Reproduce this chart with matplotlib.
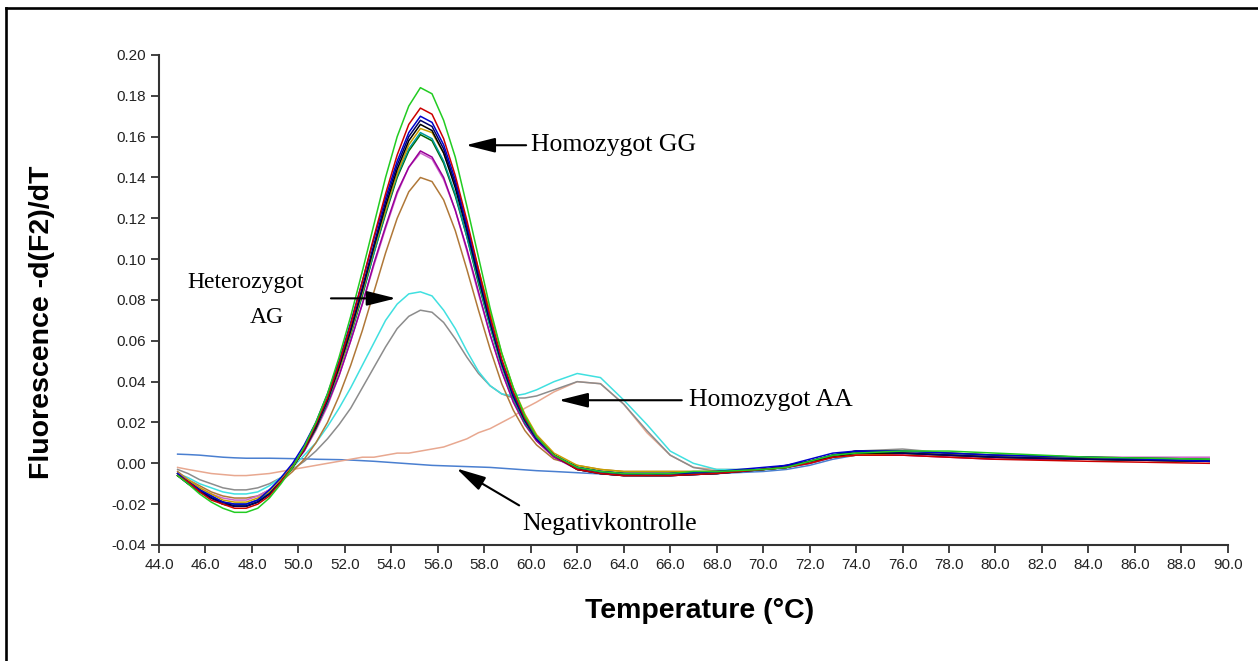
import matplotlib
matplotlib.use("Agg")
import matplotlib.pyplot as plt
from matplotlib.lines import Line2D

# temperature grid (deg C) shared by all melt curves
temp = [44.8, 45.25, 45.75, 46.25, 46.75, 47.25, 47.75, 48.25, 48.75, 49.25, 49.75,
        50.25, 50.75, 51.25, 51.75, 52.25, 52.75, 53.25, 53.75, 54.25, 54.75, 55.25,
        55.75, 56.25, 56.75, 57.25, 57.75, 58.25, 58.75, 59.25, 59.75, 60.25,
        61, 62, 63, 64, 65, 66, 67, 68, 70, 71, 72, 73, 74, 76, 78, 80, 84, 89.2]

# homozygous GG samples
gg_green = [-0.006, -0.010, -0.015, -0.019, -0.022, -0.024, -0.024, -0.022, -0.017, -0.010, -0.002,
            0.008, 0.020, 0.034, 0.052, 0.072, 0.094, 0.117, 0.140, 0.160, 0.175, 0.184,
            0.181, 0.168, 0.150, 0.126, 0.101, 0.076, 0.054, 0.037, 0.023, 0.013,
            0.004, -0.002, -0.004, -0.005, -0.005, -0.005, -0.004, -0.004, -0.003, -0.002, 0.001, 0.004, 0.005, 0.006, 0.006, 0.005, 0.003, 0.002]
gg_red = [-0.006, -0.009, -0.014, -0.018, -0.020, -0.022, -0.022, -0.020, -0.016, -0.009, -0.002,
          0.007, 0.019, 0.032, 0.049, 0.068, 0.089, 0.111, 0.132, 0.151, 0.166, 0.174,
          0.171, 0.159, 0.141, 0.119, 0.095, 0.072, 0.051, 0.035, 0.022, 0.013,
          0.004, -0.003, -0.005, -0.006, -0.006, -0.006, -0.0055, -0.005, -0.003, -0.002, 0.000, 0.003, 0.004, 0.004, 0.003, 0.002, 0.001, 0.000]
gg_blue = [-0.005, -0.009, -0.013, -0.016, -0.019, -0.020, -0.020, -0.018, -0.013, -0.007, 0.000,
           0.009, 0.020, 0.034, 0.050, 0.069, 0.089, 0.110, 0.130, 0.148, 0.162, 0.170,
           0.167, 0.156, 0.139, 0.117, 0.094, 0.071, 0.050, 0.034, 0.022, 0.012,
           0.004, -0.002, -0.004, -0.005, -0.005, -0.005, -0.0045, -0.004, -0.002, -0.001, 0.002, 0.005, 0.006, 0.006, 0.005, 0.004, 0.003, 0.001]
gg_navy = [-0.006, -0.010, -0.014, -0.017, -0.020, -0.021, -0.021, -0.019, -0.015, -0.009, -0.002,
           0.007, 0.018, 0.031, 0.048, 0.066, 0.086, 0.107, 0.128, 0.146, 0.160, 0.168,
           0.165, 0.154, 0.137, 0.115, 0.092, 0.070, 0.050, 0.033, 0.021, 0.012,
           0.004, -0.003, -0.005, -0.006, -0.006, -0.006, -0.0055, -0.005, -0.003, -0.001, 0.001, 0.004, 0.006, 0.005, 0.004, 0.003, 0.002, 0.001]
gg_black = [-0.006, -0.009, -0.013, -0.017, -0.019, -0.021, -0.021, -0.019, -0.015, -0.009, -0.002,
            0.007, 0.018, 0.031, 0.047, 0.065, 0.085, 0.106, 0.126, 0.144, 0.158, 0.166,
            0.163, 0.152, 0.135, 0.114, 0.091, 0.069, 0.049, 0.033, 0.021, 0.012,
            0.004, -0.002, -0.004, -0.005, -0.005, -0.005, -0.0045, -0.004, -0.003, -0.002, 0.001, 0.003, 0.005, 0.005, 0.004, 0.003, 0.002, 0.001]
gg_gold = [-0.005, -0.008, -0.012, -0.015, -0.018, -0.019, -0.019, -0.017, -0.014, -0.008, -0.001,
           0.007, 0.018, 0.031, 0.046, 0.064, 0.084, 0.105, 0.124, 0.142, 0.156, 0.164,
           0.162, 0.152, 0.137, 0.117, 0.095, 0.074, 0.054, 0.037, 0.024, 0.014,
           0.005, -0.001, -0.003, -0.004, -0.004, -0.004, -0.004, -0.004, -0.003, -0.002, 0.001, 0.003, 0.004, 0.005, 0.004, 0.003, 0.002, 0.001]
gg_teal = [-0.005, -0.009, -0.013, -0.016, -0.019, -0.020, -0.020, -0.018, -0.014, -0.008, -0.001,
           0.007, 0.018, 0.030, 0.046, 0.063, 0.083, 0.103, 0.123, 0.141, 0.154, 0.162,
           0.159, 0.148, 0.132, 0.111, 0.089, 0.067, 0.048, 0.032, 0.020, 0.012,
           0.004, -0.002, -0.004, -0.005, -0.006, -0.005, -0.005, -0.005, -0.003, -0.002, 0.001, 0.004, 0.005, 0.005, 0.004, 0.003, 0.002, 0.001]
gg_dkgreen = [-0.006, -0.010, -0.014, -0.017, -0.020, -0.021, -0.021, -0.019, -0.015, -0.009, -0.002,
              0.007, 0.017, 0.030, 0.046, 0.063, 0.082, 0.103, 0.122, 0.140, 0.153, 0.161,
              0.158, 0.147, 0.131, 0.111, 0.088, 0.067, 0.048, 0.032, 0.020, 0.012,
              0.004, -0.003, -0.005, -0.006, -0.006, -0.006, -0.0055, -0.005, -0.003, -0.002, 0.001, 0.004, 0.006, 0.006, 0.005, 0.004, 0.003, 0.002]
gg_purple = [-0.005, -0.009, -0.013, -0.016, -0.019, -0.020, -0.020, -0.018, -0.014, -0.008, -0.001,
             0.006, 0.017, 0.029, 0.043, 0.060, 0.078, 0.098, 0.116, 0.133, 0.145, 0.153,
             0.150, 0.140, 0.124, 0.105, 0.084, 0.063, 0.045, 0.030, 0.019, 0.011,
             0.003, -0.003, -0.005, -0.006, -0.006, -0.006, -0.0055, -0.005, -0.003, -0.002, 0.000, 0.003, 0.004, 0.004, 0.003, 0.002, 0.002, 0.001]
gg_violet = [-0.005, -0.008, -0.012, -0.015, -0.017, -0.018, -0.018, -0.016, -0.013, -0.008, -0.001,
             0.006, 0.016, 0.028, 0.043, 0.060, 0.078, 0.097, 0.115, 0.132, 0.145, 0.152,
             0.149, 0.139, 0.124, 0.104, 0.083, 0.063, 0.045, 0.030, 0.019, 0.011,
             0.003, -0.002, -0.004, -0.005, -0.005, -0.005, -0.0045, -0.004, -0.003, -0.001, 0.001, 0.004, 0.005, 0.006, 0.005, 0.004, 0.003, 0.003]
gg_brown = [-0.004, -0.008, -0.011, -0.014, -0.016, -0.017, -0.017, -0.016, -0.013, -0.009, -0.004,
            0.002, 0.010, 0.020, 0.033, 0.048, 0.065, 0.084, 0.103, 0.120, 0.133, 0.140,
            0.138, 0.129, 0.114, 0.095, 0.075, 0.056, 0.039, 0.026, 0.016, 0.009,
            0.002, -0.001, -0.003, -0.004, -0.004, -0.004, -0.004, -0.004, -0.003, -0.002, 0.001, 0.003, 0.004, 0.005, 0.004, 0.003, 0.002, 0.001]

# heterozygous AG samples
ag_cyan = [-0.005, -0.007, -0.010, -0.012, -0.014, -0.015, -0.015, -0.014, -0.011, -0.007, -0.002,
           0.004, 0.010, 0.018, 0.027, 0.037, 0.048, 0.059, 0.070, 0.078, 0.083, 0.084,
           0.082, 0.075, 0.066, 0.055, 0.045, 0.038, 0.034, 0.033, 0.034, 0.036,
           0.040, 0.044, 0.042, 0.031, 0.019, 0.006, 0.000, -0.003, -0.003, -0.002, 0.000, 0.003, 0.005, 0.005, 0.004, 0.003, 0.002, 0.001]
ag_grey = [-0.003, -0.005, -0.008, -0.010, -0.012, -0.013, -0.013, -0.012, -0.010, -0.007, -0.003,
           0.001, 0.006, 0.012, 0.019, 0.027, 0.037, 0.047, 0.057, 0.066, 0.072, 0.075,
           0.074, 0.069, 0.061, 0.052, 0.044, 0.038, 0.034, 0.032, 0.032, 0.033,
           0.036, 0.040, 0.039, 0.029, 0.016, 0.004, -0.002, -0.004, -0.003, -0.002, 0.001, 0.004, 0.006, 0.007, 0.005, 0.004, 0.003, 0.002]

# homozygous AA sample
aa_salmon = [-0.002, -0.003, -0.004, -0.005, -0.0055, -0.006, -0.006, -0.0055, -0.005, -0.004, -0.003,
             -0.002, -0.001, 0.000, 0.001, 0.002, 0.003, 0.003, 0.004, 0.005, 0.005, 0.006,
             0.007, 0.008, 0.010, 0.012, 0.015, 0.017, 0.020, 0.023, 0.027, 0.030,
             0.035, 0.040, 0.039, 0.029, 0.015, 0.004, -0.002, -0.003, -0.003, -0.002, 0.001, 0.003, 0.005, 0.005, 0.004, 0.003, 0.002, 0.001]

# negative control
neg_ctrl = [0.0045, 0.0043, 0.004, 0.0035, 0.003, 0.0027, 0.0025, 0.0025, 0.0025, 0.0024, 0.0023,
            0.0022, 0.002, 0.0019, 0.0018, 0.0016, 0.0013, 0.001, 0.0006, 0.0002, -0.0002, -0.0006,
            -0.001, -0.0012, -0.0014, -0.0016, -0.0018, -0.002, -0.0024, -0.0028, -0.0032, -0.0036,
            -0.004, -0.0046, -0.0052, -0.0058, -0.006, -0.006, -0.0055, -0.005, -0.004, -0.003, -0.001, 0.002, 0.004, 0.005, 0.004, 0.003, 0.002, 0.001]

x_ticks = [44 + 2 * i for i in range(24)]
y_ticks = [-0.04, -0.02, 0.00, 0.02, 0.04, 0.06, 0.08, 0.10, 0.12, 0.14, 0.16, 0.18, 0.20]

curves = [
    (neg_ctrl, "#4a7fd0"),
    (aa_salmon, "#e8a890"),
    (ag_grey, "#8c8c8c"),
    (ag_cyan, "#40e0e0"),
    (gg_brown, "#b07838"),
    (gg_violet, "#cc66cc"),
    (gg_purple, "#990099"),
    (gg_dkgreen, "#006600"),
    (gg_teal, "#009999"),
    (gg_gold, "#c8a000"),
    (gg_black, "#000000"),
    (gg_navy, "#000066"),
    (gg_blue, "#0000cc"),
    (gg_red, "#cc0000"),
    (gg_green, "#22cc22"),
]

fig = plt.figure(figsize=(12.58, 6.61), dpi=100)
ax = fig.add_axes([0.1264, 0.1755, 0.8496, 0.7413])

for vals, col in curves:
    ax.plot(temp, vals, color=col, lw=1.1)

ax.set_xlim(44, 90)
ax.set_ylim(-0.04, 0.20)
ax.set_xticks(x_ticks)
ax.set_xticklabels(["%.1f" % t for t in x_ticks], family="Liberation Sans")
ax.set_yticks(y_ticks)
ax.set_yticklabels(["%.2f" % v for v in y_ticks], family="Liberation Sans")
ax.tick_params(labelsize=11, colors="#222222", length=6, width=1.2, direction="out")
for s in ["top", "right"]:
    ax.spines[s].set_visible(False)
for s in ["left", "bottom"]:
    ax.spines[s].set_color("#333333")
    ax.spines[s].set_linewidth(1.5)

ax.set_xlabel("Temperature (\u00b0C)", fontsize=20.5, fontweight="bold",
              family="Liberation Sans")
ax.set_ylabel("Fluorescence -d(F2)/dT", fontsize=20.5, fontweight="bold",
              family="Liberation Sans")
ax.xaxis.set_label_coords(0.506, -0.108)
ax.yaxis.set_label_coords(-0.097, 0.455)

serif = dict(family="Liberation Serif", fontsize=18.5, color="black")
serif_small = dict(family="Liberation Serif", fontsize=17, color="black")
arrow = dict(arrowstyle="-|>,head_length=1.8,head_width=0.45", color="black", lw=1.5,
             shrinkA=0, shrinkB=0)

ax.annotate("", xy=(57.2, 0.1558), xytext=(59.8, 0.1558), arrowprops=arrow)
ax.text(60.0, 0.1558, "Homozygot GG", ha="left", va="center", **serif)

ax.annotate("", xy=(54.2, 0.0808), xytext=(51.4, 0.0808), arrowprops=arrow)
ax.text(47.74, 0.0887, "Heterozygot", ha="center", va="center", **serif_small)
ax.text(48.64, 0.0715, "AG", ha="center", va="center", **serif_small)

ax.annotate("", xy=(61.2, 0.0309), xytext=(66.5, 0.0309), arrowprops=arrow)
ax.text(66.8, 0.0309, "Homozygot AA", ha="left", va="center", **serif)

ax.annotate("", xy=(56.8, -0.0025), xytext=(59.5, -0.0206), arrowprops=arrow)
ax.text(59.65, -0.0299, "Negativkontrolle", ha="left", va="center", **serif)

# frame around the picture (left and top edges only visible)
fig.add_artist(Line2D([0.0048, 0.0048], [0.0, 0.9879], transform=fig.transFigure,
                      color="black", lw=1.9))
fig.add_artist(Line2D([0.0048, 1.0], [0.9879, 0.9879], transform=fig.transFigure,
                      color="black", lw=1.9))

fig.savefig("out.png", dpi=100)
